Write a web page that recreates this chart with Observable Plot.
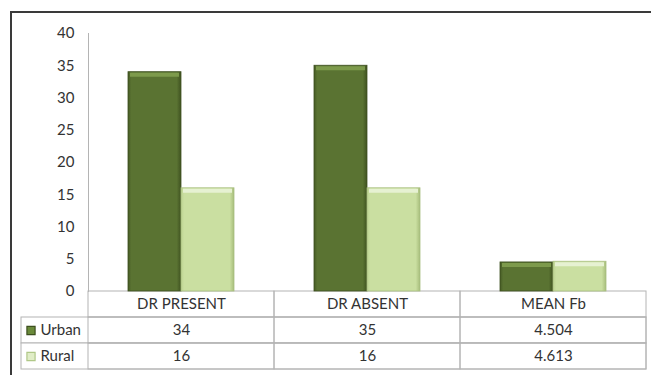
<!DOCTYPE html>
<html>
<head>
<meta charset="utf-8">
<script src="https://cdn.jsdelivr.net/npm/d3@7"></script>
<script src="https://cdn.jsdelivr.net/npm/@observablehq/plot@0.6"></script>
<style>
  html, body { margin: 0; padding: 0; background: #fff; }
  #wrap { position: relative; width: 651px; height: 375px; overflow: hidden; font-family: Lato, sans-serif; }
  #wrap svg { position: absolute; left: 0; top: 0; }
  #chartBorder { position: absolute; left: 10px; top: 11px; width: 700px; height: 400px;
                 border-top: 2px solid #3a3a3a; border-left: 2px solid #3a3a3a; }
</style>
</head>
<body>
<div id="wrap"><div id="chartBorder"></div></div>
<script>
// Values shown in the chart and in its data table
const categories = ["DR PRESENT", "DR ABSENT", "MEAN Fb"];
const seriesNames = ["Urban", "Rural"];
const urbanValues = [34, 35, 4.504];
const ruralValues = [16, 16, 4.613];
const yTicks = [0, 5, 10, 15, 20, 25, 30, 35, 40];

// Layout
const W = 651, H = 375;
const marginLeft = 88, marginRight = 5, marginTop = 33, marginBottom = 84;
const padInner = 0.43;
const step = (W - marginLeft - marginRight) / categories.length;
const halfGroup = step * (1 - padInner) / 2;
const gridColor = "#b4b4b4";
const textColor = "#333333";

const urban = categories.map((c, i) => ({category: c, series: "Urban", value: urbanValues[i]}));
const rural = categories.map((c, i) => ({category: c, series: "Rural", value: ruralValues[i]}));

const chart = Plot.plot({
  width: W, height: H,
  marginLeft, marginRight, marginTop, marginBottom,
  style: {background: "transparent", fontFamily: "Lato, sans-serif", fontSize: "15px", color: textColor},
  x: {domain: categories, paddingInner: padInner, paddingOuter: padInner / 2, axis: null},
  y: {domain: [0, 40]},
  marks: [
    Plot.frame({anchor: "left", stroke: gridColor}),
    Plot.axisY({ticks: yTicks, tickSize: 0, tickPadding: 14, fontSize: 15, label: null}),
    // bevelled bars: body, top highlight
    Plot.barY(urban, {x: "category", y: "value", insetRight: halfGroup, fill: "url(#urbanBevel)", stroke: "#3d4f1f", strokeWidth: 0.8}),
    Plot.barY(rural, {x: "category", y: "value", insetLeft: halfGroup, fill: "url(#ruralBevel)", stroke: "#a9bf80", strokeWidth: 0.8}),
    Plot.tickY(urban, {x: "category", y: "value", insetLeft: 2, insetRight: halfGroup + 2, dy: 2.5, stroke: "#7d9a4c", strokeWidth: 4}),
    Plot.tickY(rural, {x: "category", y: "value", insetLeft: halfGroup + 2, insetRight: 2, dy: 2.5, stroke: "#e6f1d2", strokeWidth: 4})
  ]
});

// gradients used by the bar bodies
const defs = d3.select(chart).insert("defs", ":first-child");
function bevel(id, edge, body, far) {
  const g = defs.append("linearGradient").attr("id", id).attr("x1", 0).attr("x2", 1).attr("y1", 0).attr("y2", 0);
  g.append("stop").attr("offset", "0%").attr("stop-color", edge);
  g.append("stop").attr("offset", "6%").attr("stop-color", body);
  g.append("stop").attr("offset", "92%").attr("stop-color", body);
  g.append("stop").attr("offset", "100%").attr("stop-color", far);
}
bevel("urbanBevel", "#455a24", "#5a7332", "#3f5220");
bevel("ruralBevel", "#bcd291", "#cadfa1", "#a7bd7b");

// data table beneath the plot area
const tableRows = ["header", ...seriesNames];
const headerCells = categories.map(c => ({category: c, row: "header"}));
const valueCells = [...urban, ...rural].map(d => ({category: d.category, row: d.series, label: String(d.value)}));

const table = Plot.plot({
  width: W, height: H,
  marginLeft: 21, marginRight: 5, marginTop: 291, marginBottom: 6,
  style: {background: "transparent", fontFamily: "Lato, sans-serif", fontSize: "15px", color: textColor},
  x: {domain: categories, range: [marginLeft, W - marginRight], padding: 0, axis: null},
  y: {domain: tableRows, padding: 0, axis: null},
  marks: [
    Plot.cell(seriesNames, {y: d => d, fill: "white", stroke: gridColor}),
    Plot.cell([...headerCells, ...valueCells], {x: "category", y: "row", fill: "none", stroke: gridColor}),
    Plot.text(headerCells, {x: "category", y: "row", text: "category", fill: textColor}),
    Plot.text(valueCells, {x: "category", y: "row", text: "label", fill: textColor}),
    Plot.dot(["Urban"], {y: d => d, frameAnchor: "left", dx: 9.5, symbol: "square", r: 4.6, fill: "#6a8a3a", stroke: "#3d4f1f", strokeWidth: 1.2}),
    Plot.dot(["Rural"], {y: d => d, frameAnchor: "left", dx: 9.5, symbol: "square", r: 4.6, fill: "#e0edc7", stroke: "#b0c888", strokeWidth: 1.2}),
    Plot.text(seriesNames, {y: d => d, text: d => d, frameAnchor: "left", dx: 19, textAnchor: "start", fill: textColor})
  ]
});

const wrap = document.getElementById("wrap");
wrap.appendChild(table);
wrap.appendChild(chart);
</script>
</body>
</html>
